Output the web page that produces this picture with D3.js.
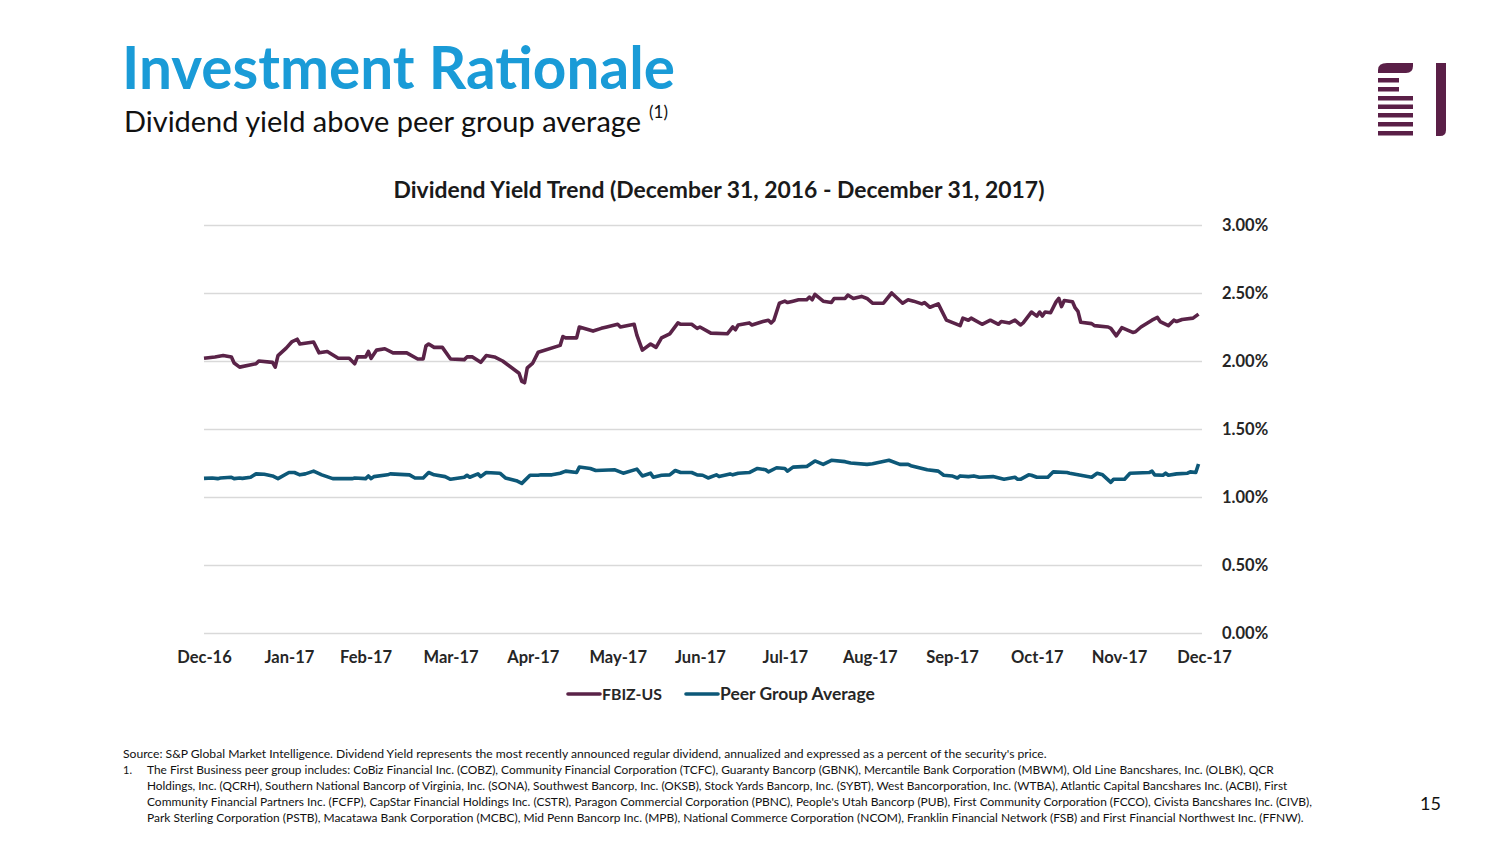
<!DOCTYPE html>
<html>
<head>
<meta charset="utf-8">
<script src="https://cdn.jsdelivr.net/npm/d3@7"></script>
<style>
  html, body { margin: 0; padding: 0; background: #fff; }
  svg { display: block; font-family: Lato, "Open Sans", sans-serif; }
</style>
</head>
<body>
<svg id="chart" width="1504" height="846"></svg>
<script>
// ---------------- DATA ----------------
const startDate = "2016-12-31";
const endDate = "2017-12-31";
const monthTicks = ["2016-12-31","2017-01-31","2017-02-28","2017-03-31","2017-04-30","2017-05-31",
  "2017-06-30","2017-07-31","2017-08-31","2017-09-30","2017-10-31","2017-11-30","2017-12-31"];
const yTicks = [0, 0.5, 1.0, 1.5, 2.0, 2.5, 3.0];
const seriesNames = ["FBIZ-US", "Peer Group Average"];

// days since Dec 31, 2016
const fbizDays = [0,4,7,10,11,13,19,20,25,26,27,30,32,34,35,40,42,45,49,53,55,56,59,60,61,63,66,69,74,78,80,81,82,84,87,90,95,96,98,101,103,106,109,115,116,117,118,120,122,130,131,132,136,137,142,145,147,151,152,157,158,160,163,165,167,170,173,174,178,180,181,185,191,193,194,195,199,200,204,206,207,208,210,212,213,215,217,220,221,222,223,226,229,230,234,235,237,240,242,244,248,251,255,257,259,262,263,265,268,271,276,277,279,280,284,287,290,291,294,296,298,299,302,304,305,306,307,309,311,312,313,314,317,318,319,320,324,325,330,331,333,335,339,340,342,346,348,349,352,354,355,357,361,363];
const fbizValues = [2.02,2.03,2.04,2.03,1.985,1.955,1.98,2.00,1.99,1.955,2.04,2.095,2.14,2.16,2.125,2.14,2.06,2.07,2.02,2.02,1.98,2.03,2.03,2.07,2.02,2.08,2.09,2.06,2.06,2.015,2.015,2.11,2.125,2.10,2.10,2.015,2.01,2.03,2.03,1.99,2.04,2.03,2.00,1.91,1.85,1.84,1.95,1.985,2.065,2.115,2.18,2.17,2.17,2.25,2.22,2.24,2.25,2.27,2.25,2.27,2.19,2.08,2.125,2.10,2.17,2.20,2.28,2.27,2.27,2.24,2.25,2.205,2.20,2.25,2.23,2.265,2.28,2.265,2.29,2.30,2.28,2.30,2.425,2.44,2.43,2.44,2.45,2.45,2.47,2.45,2.49,2.44,2.43,2.46,2.46,2.485,2.46,2.475,2.46,2.425,2.425,2.50,2.425,2.45,2.44,2.42,2.43,2.395,2.42,2.30,2.26,2.315,2.30,2.315,2.27,2.30,2.27,2.29,2.28,2.30,2.265,2.28,2.36,2.33,2.36,2.33,2.36,2.355,2.435,2.46,2.40,2.445,2.435,2.39,2.365,2.285,2.275,2.26,2.25,2.24,2.185,2.245,2.21,2.215,2.25,2.30,2.32,2.29,2.26,2.30,2.29,2.305,2.315,2.345];

const peerDays = [0,3,5,6,10,11,13,14,17,19,22,25,27,31,33,35,37,40,43,47,54,55,59,60,61,62,67,68,75,77,80,82,84,88,90,95,96,97,100,101,103,108,110,114,116,119,122,123,127,130,132,136,137,141,143,150,153,158,160,163,164,167,170,172,174,178,180,182,184,187,188,192,193,195,199,202,205,206,209,212,213,215,220,223,226,229,234,236,242,244,250,254,257,258,264,268,270,273,275,276,279,281,283,288,292,296,297,298,301,302,304,308,310,315,316,319,324,326,328,331,332,336,338,345,346,347,350,351,352,355,359,360,362,363];
const peerValues = [1.137,1.14,1.135,1.14,1.145,1.135,1.14,1.137,1.145,1.17,1.167,1.155,1.135,1.18,1.18,1.163,1.17,1.19,1.163,1.135,1.135,1.14,1.135,1.155,1.135,1.15,1.163,1.17,1.163,1.14,1.14,1.18,1.163,1.15,1.13,1.145,1.16,1.145,1.17,1.15,1.18,1.175,1.14,1.12,1.10,1.16,1.16,1.163,1.163,1.175,1.19,1.18,1.22,1.21,1.195,1.20,1.175,1.205,1.155,1.175,1.145,1.16,1.163,1.195,1.18,1.18,1.163,1.16,1.14,1.163,1.15,1.17,1.163,1.175,1.18,1.21,1.20,1.185,1.215,1.21,1.19,1.22,1.225,1.265,1.24,1.27,1.26,1.25,1.24,1.245,1.27,1.24,1.24,1.23,1.20,1.19,1.16,1.155,1.14,1.155,1.15,1.155,1.145,1.15,1.13,1.145,1.13,1.13,1.163,1.16,1.145,1.145,1.185,1.18,1.175,1.163,1.145,1.175,1.163,1.108,1.13,1.13,1.175,1.18,1.19,1.163,1.16,1.175,1.16,1.17,1.175,1.185,1.18,1.243];

const footLines = [
  "Source: S&P Global Market Intelligence. Dividend Yield represents the most recently announced regular dividend, annualized and expressed as a percent of the security's price.",
  "The First Business peer group includes: CoBiz Financial Inc. (COBZ), Community Financial Corporation (TCFC), Guaranty Bancorp (GBNK), Mercantile Bank Corporation (MBWM), Old Line Bancshares, Inc. (OLBK), QCR",
  "Holdings, Inc. (QCRH), Southern National Bancorp of Virginia, Inc. (SONA), Southwest Bancorp, Inc. (OKSB), Stock Yards Bancorp, Inc. (SYBT), West Bancorporation, Inc. (WTBA), Atlantic Capital Bancshares Inc. (ACBI), First",
  "Community Financial Partners Inc. (FCFP), CapStar Financial Holdings Inc. (CSTR), Paragon Commercial Corporation (PBNC), People's Utah Bancorp (PUB), First Community Corporation (FCCO), Civista Bancshares Inc. (CIVB),",
  "Park Sterling Corporation (PSTB), Macatawa Bank Corporation (MCBC), Mid Penn Bancorp Inc. (MPB), National Commerce Corporation (NCOM), Franklin Financial Network (FSB) and First Financial Northwest Inc. (FFNW)."
];

// ---------------- DRAW ----------------
const svg = d3.select("#chart");
const parse = d3.timeParse("%Y-%m-%d");
const t0 = parse(startDate), t1 = parse(endDate);
const purple = "#5a2348", teal = "#0d5878", titleBlue = "#1a9bd7";

function fit(sel, target) {
  const node = sel.node();
  const fs = parseFloat(sel.attr("font-size"));
  const w = node.getComputedTextLength();
  sel.attr("font-size", (fs * target / w).toFixed(2));
  return sel;
}

// Header
fit(svg.append("text").attr("x", 122).attr("y", 89).attr("font-size", 56)
  .attr("font-weight", 700).attr("fill", titleBlue).text("Investment Rationale"), 553);
fit(svg.append("text").attr("x", 124).attr("y", 132).attr("font-size", 27)
  .attr("fill", "#111").text("Dividend yield above peer group average"), 517);
svg.append("text").attr("x", 649).attr("y", 118).attr("font-size", 17)
  .attr("fill", "#111").text("(1)");

// Logo
const logo = svg.append("g").attr("fill", "#5a1f47");
logo.append("path").attr("d", "M1378,73 L1378,70 Q1378,63 1387,63 L1413,63 L1413,66 Q1413,73 1406,73 Z");
[[78, 21], [87, 21], [96, 35], [104.5, 35], [113, 35], [122, 35], [131, 35]].forEach(([y, w]) => {
  logo.append("rect").attr("x", 1378).attr("y", y).attr("width", w).attr("height", 4.5);
});
logo.append("path").attr("d", "M1436,63 L1446,63 L1446,130 Q1446,136 1440,136 L1436,136 Z");

// Chart
const x = d3.scaleTime().domain([t0, t1]).range([204, 1204]);
const y = d3.scaleLinear().domain([0, 3]).range([633, 225]);

fit(svg.append("text").attr("x", 719).attr("y", 198).attr("text-anchor", "middle")
  .attr("font-size", 22).attr("font-weight", 700).attr("fill", "#1a1a1a")
  .text("Dividend Yield Trend (December 31, 2016 - December 31, 2017)"), 651);

const yAxis = svg.append("g").attr("transform", "translate(1202,0)")
  .call(d3.axisRight(y).tickValues(yTicks).tickSize(-998).tickPadding(20)
    .tickFormat(d => d3.format(".2f")(d) + "%"));
yAxis.select(".domain").remove();
yAxis.selectAll(".tick line").attr("stroke", "#d9d9d9").attr("stroke-width", 1.3);
yAxis.selectAll(".tick text").attr("font-size", 16.5).attr("font-weight", 700)
  .attr("fill", "#262626").attr("font-family", "Lato, sans-serif").attr("dy", "0.36em");

const xAxis = svg.append("g").attr("transform", "translate(0,633)")
  .call(d3.axisBottom(x).tickValues(monthTicks.map(parse)).tickSize(0).tickPadding(18)
    .tickFormat(d3.timeFormat("%b-%y")));
xAxis.select(".domain").remove();
xAxis.selectAll(".tick text").attr("font-size", 16.5).attr("font-weight", 700)
  .attr("fill", "#262626").attr("font-family", "Lato, sans-serif");

const toPts = (days, vals) => days.map((d, i) => ({ date: d3.timeDay.offset(t0, d), v: vals[i] }));
const line = d3.line().x(d => x(d.date)).y(d => y(d.v)).curve(d3.curveLinear);

svg.append("path").datum(toPts(peerDays, peerValues)).attr("d", line)
  .attr("fill", "none").attr("stroke", teal).attr("stroke-width", 3.6).attr("stroke-linejoin", "round");
svg.append("path").datum(toPts(fbizDays, fbizValues)).attr("d", line)
  .attr("fill", "none").attr("stroke", purple).attr("stroke-width", 3.6).attr("stroke-linejoin", "round");

// Legend
const legend = [
  { name: seriesNames[0], color: purple, x: 568, w: 60 },
  { name: seriesNames[1], color: teal, x: 686, w: 155 }
];
legend.forEach(l => {
  svg.append("line").attr("x1", l.x).attr("x2", l.x + 32).attr("y1", 694).attr("y2", 694)
    .attr("stroke", l.color).attr("stroke-width", 3.6).attr("stroke-linecap", "round");
  fit(svg.append("text").attr("x", l.x + 34).attr("y", 700).attr("font-size", 16.5)
    .attr("font-weight", 700).attr("fill", "#262626").text(l.name), l.w);
});

// Footnotes
const footTargets = [925, 1128, 1141, 1166, 1157];
footLines.forEach((t, i) => {
  const tx = i === 0 ? 123 : 147;
  fit(svg.append("text").attr("x", tx).attr("y", 758 + i * 15.9).attr("font-size", 11)
    .attr("fill", "#111").text(t), footTargets[i]);
});
svg.append("text").attr("x", 123).attr("y", 758 + 15.9).attr("font-size", 11)
  .attr("fill", "#111").text("1.");
svg.append("text").attr("x", 1420).attr("y", 810).attr("font-size", 18)
  .attr("fill", "#111").text("15");
</script>
</body>
</html>
